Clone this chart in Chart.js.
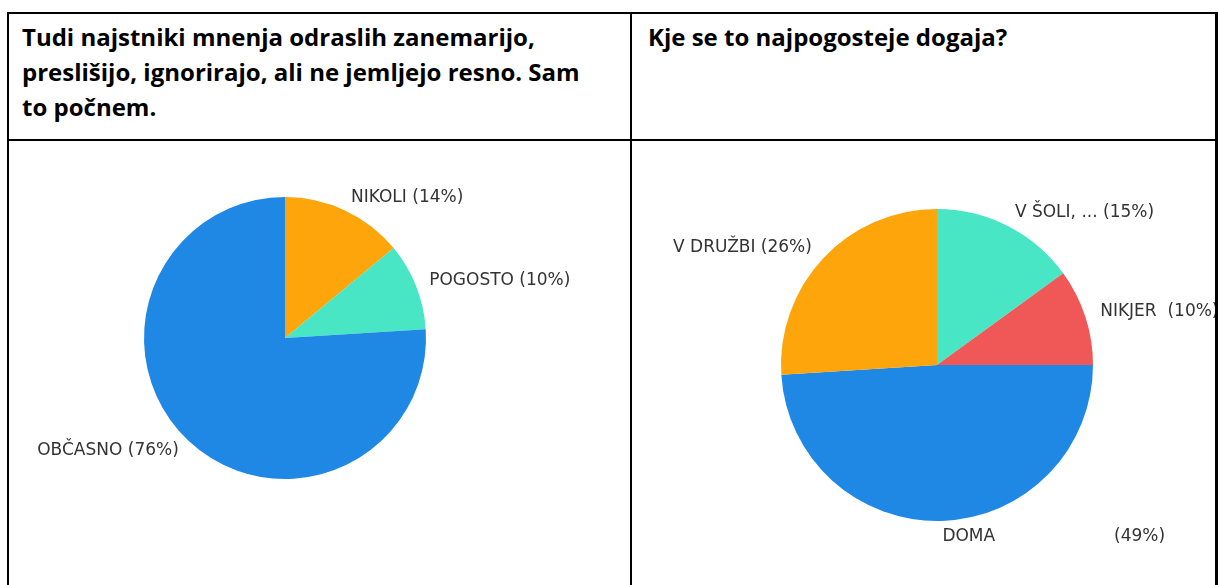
<!DOCTYPE html>
<html>
<head>
<meta charset="utf-8">
<script src="https://cdn.jsdelivr.net/npm/chart.js@4.4.0/dist/chart.umd.min.js"></script>
<style>
  html, body { margin: 0; padding: 0; background: #fff; }
  body { width: 1220px; height: 585px; position: relative; overflow: hidden; }
  .line { position: absolute; background: #000; }
  .head {
    position: absolute;
    font-family: 'Open Sans', sans-serif;
    font-weight: bold;
    font-size: 24px;
    line-height: 35px;
    white-space: nowrap;
    color: #000;
  }
  .cell { position: absolute; overflow: hidden; }
</style>
</head>
<body>
<!-- table borders -->
<div class="line" style="left:7px; top:12px; width:1211px; height:2px;"></div>
<div class="line" style="left:7px; top:12px; width:2px; height:580px;"></div>
<div class="line" style="left:630px; top:12px; width:2px; height:580px;"></div>
<div class="line" style="left:1215px; top:12px; width:3px; height:580px;"></div>
<div class="line" style="left:7px; top:139px; width:1211px; height:2px;"></div>

<div class="head" style="left:22px; top:19px;">Tudi najstniki mnenja odraslih zanemarijo,<br>preslišijo, ignorirajo, ali ne jemljejo resno. Sam<br>to počnem.</div>
<div class="head" style="left:648px; top:19px;">Kje se to najpogosteje dogaja?</div>

<div class="cell" style="left:9px; top:142px; width:621px; height:443px;">
  <canvas id="leftPie" width="621" height="443"></canvas>
</div>
<div class="cell" style="left:633px; top:142px; width:582px; height:443px;">
  <canvas id="rightPie" width="582" height="443"></canvas>
</div>

<script>
// Tudi najstniki mnenja odraslih zanemarijo...
const leftLabels = ['NIKOLI', 'POGOSTO', 'OBČASNO'];
const leftValues = [14, 10, 76];
const leftColors = ['#fea50b', '#48e6c5', '#1f88e4'];

// Kje se to najpogosteje dogaja?
const rightLabels = ['V ŠOLI, ...', 'NIKJER ', 'DOMA' + ' '.repeat(21), 'V DRUŽBI'];
const rightValues = [15, 10, 49, 26];
const rightColors = ['#48e6c5', '#f05858', '#1f88e4', '#fea50b'];

// draws "LABEL (xx%)" just outside each slice
const outsideLabels = {
  id: 'outsideLabels',
  afterDatasetsDraw(chart) {
    const ctx = chart.ctx
    const meta = chart.getDatasetMeta(0)
    const values = chart.data.datasets[0].data
    ctx.save()
    ctx.font = '17px "DejaVu Sans", Verdana, sans-serif'
    ctx.fillStyle = '#333'
    ctx.textBaseline = 'middle'
    meta.data.forEach((arc, i) => {
      const mid = (arc.startAngle + arc.endAngle) / 2
      const r = arc.outerRadius * 1.1
      const x = arc.x + Math.cos(mid) * r
      const y = arc.y + Math.sin(mid) * r
      ctx.textAlign = x >= arc.x - 1 ? 'left' : 'right'
      ctx.fillText(`${chart.data.labels[i]} (${values[i]}%)`, x, y)
    })
    ctx.restore()
  }
}

const pieOptions = (padding) => ({
  responsive: false,
  animation: false,
  layout: { padding },
  plugins: {
    legend: { display: false },
    tooltip: { enabled: false }
  }
})

new Chart(document.getElementById('leftPie'), {
  type: 'pie',
  data: {
    labels: leftLabels,
    datasets: [{
      data: leftValues,
      backgroundColor: leftColors,
      borderWidth: 0
    }]
  },
  options: pieOptions({ left: 135, top: 55, right: 204, bottom: 106 }),
  plugins: [outsideLabels]
});

new Chart(document.getElementById('rightPie'), {
  type: 'pie',
  data: {
    labels: rightLabels,
    datasets: [{
      data: rightValues,
      backgroundColor: rightColors,
      borderWidth: 0
    }]
  },
  options: pieOptions({ left: 148, top: 67, right: 122, bottom: 64 }),
  plugins: [outsideLabels]
});
</script>
</body>
</html>
